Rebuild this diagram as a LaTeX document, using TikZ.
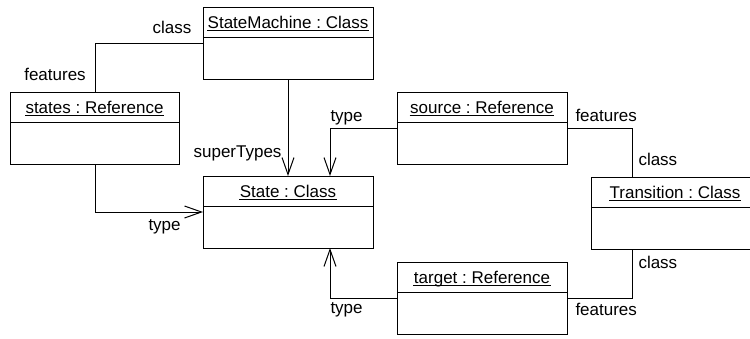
\documentclass[tikz,border=0pt]{standalone}
\usepackage{fontspec}
\setmainfont{Liberation Sans}
\frenchspacing
\usetikzlibrary{arrows.meta,calc}
\newcommand{\objbox}[5]{%
  \node[obj, minimum width=#4] (#1) at (#2,#3) {};
  \draw ([yshift=-30pt]#1.north west) -- ([yshift=-30pt]#1.north east);
  \node[ttl] (#1t) at ($(#1.north)+(0,21)$) {#5};
  \draw ([yshift=-2.5pt]#1t.base west) -- ([yshift=-2.5pt]#1t.base east);
}
\begin{document}
\begin{tikzpicture}[x=1pt,y=-1pt,line width=1pt,
  obj/.style={draw, rectangle, anchor=north west, minimum height=72pt, inner sep=0pt, outer sep=0pt},
  ttl/.style={anchor=base, inner sep=0pt, font=\fontsize{17}{20}\selectfont},
  lbl/.style={inner sep=0pt, font=\fontsize{17}{20}\selectfont},
  arr/.style={-{Straight Barb[length=17pt,width=12pt]}}]
\useasboundingbox (0,0) rectangle (750,338);
\clip (0,0) rectangle (750,338);
\objbox{sm}{203}{7}{170pt}{StateMachine : Class}
\objbox{states}{10}{92}{169pt}{states : Reference}
\objbox{source}{397}{92}{170pt}{source : Reference}
\objbox{state}{203}{176}{170pt}{State : Class}
\objbox{tr}{591}{177}{168pt}{Transition : Class}
\objbox{target}{397}{262}{170pt}{target : Reference}
% connectors
\draw ([xshift=85pt]states.north west) |- (sm.west);
\draw[arr] (sm.south) -- (state.north);
\draw[arr] ([xshift=85pt]states.south west) |- (state.west);
\draw[arr] (source.west) -| ([xshift=127pt]state.north west);
\draw (source.east) -| ([xshift=41pt]tr.north west);
\draw[arr] (target.west) -| ([xshift=127pt]state.south west);
\draw (target.east) -| ([xshift=41pt]tr.south west);
% labels
\node[lbl, anchor=base] (l1) at (172,33) {class};
\node[lbl, anchor=base] (l2) at (55,80) {features};
\node[lbl, anchor=base east] (l3) at (282,157) {superTypes};
\node[lbl, anchor=base west] (l4) at (148,230) {type};
\node[lbl, anchor=base west] (l5) at (330,121) {type};
\node[lbl, anchor=base west] (l6) at (575,121) {features};
\node[lbl, anchor=base west] (l7) at (638,165) {class};
\node[lbl, anchor=base west] (l8) at (638,268) {class};
\node[lbl, anchor=base west] (l9) at (575,315) {features};
\node[lbl, anchor=base west] (l10) at (330,313) {type};
\end{tikzpicture}
\end{document}
